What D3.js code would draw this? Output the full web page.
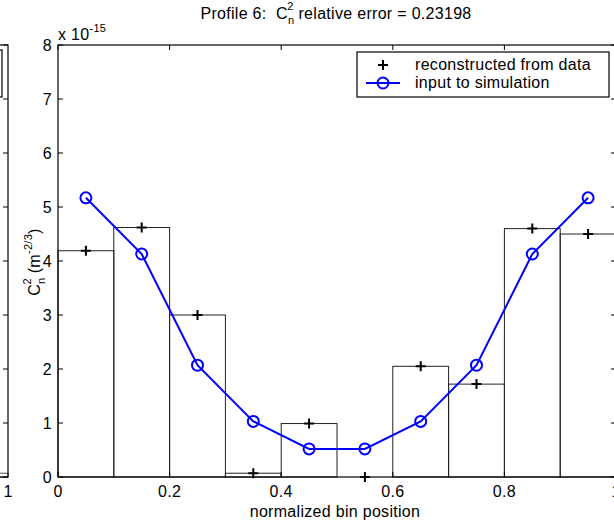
<!DOCTYPE html>
<html>
<head>
<meta charset="utf-8">
<script src="https://cdn.jsdelivr.net/npm/d3@7"></script>
<style>
  body { margin: 0; background: #fff; }
  svg { display: block; font-family: "Liberation Sans", Arial, sans-serif; }
  text { letter-spacing: 0.3px; white-space: pre; }
</style>
</head>
<body>
<svg id="chart" width="614" height="522"></svg>
<script>
// bin centres (normalized position) and bin width
var binCenters = [0.05, 0.15, 0.25, 0.35, 0.45, 0.55, 0.65, 0.75, 0.85, 0.95];
var binWidth = 0.1;
// values in units of 1e-15 m^-2/3
var reconstructed = [4.19, 4.62, 3.00, 0.07, 0.99, 0.00, 2.05, 1.72, 4.60, 4.50];
var inputSim = [5.17, 4.13, 2.07, 1.03, 0.52, 0.52, 1.03, 2.07, 4.13, 5.17];
var xTicks = [0, 0.2, 0.4, 0.6, 0.8, 1];
var yTicks = [0, 1, 2, 3, 4, 5, 6, 7, 8];
var legendLabels = ["reconstructed from data", "input to simulation"];
// neighbouring subplot, only its right edge shows
var leftPanelLastBar = [0.07];

var svg = d3.select("#chart");
var x = d3.scaleLinear().domain([0, 1]).range([58, 616]);
var y = d3.scaleLinear().domain([0, 8]).range([477, 45]);
var tickLen = 5;
var fs = 16;

// ---- left neighbour panel (clipped) ----
var xl = d3.scaleLinear().domain([0, 1]).range([-550, 8]);
var lp = svg.append("g");
lp.append("rect")
    .attr("x", xl(0.9)).attr("y", y(leftPanelLastBar[0]))
    .attr("width", xl(1) - xl(0.9)).attr("height", y(0) - y(leftPanelLastBar[0]))
    .attr("fill", "none").attr("stroke", "#555").attr("stroke-width", 1);
lp.append("rect")
    .attr("x", -300).attr("y", 45).attr("width", 308).attr("height", 432)
    .attr("fill", "none").attr("stroke", "#000").attr("stroke-width", 1.2);
lp.selectAll(".lt").data(yTicks).enter().append("line")
    .attr("x1", 8).attr("x2", 8 - tickLen)
    .attr("y1", d => y(d)).attr("y2", d => y(d))
    .attr("stroke", "#000").attr("stroke-width", 1);
lp.append("rect")
    .attr("x", -200).attr("y", 50).attr("width", 202).attr("height", 47)
    .attr("fill", "none").attr("stroke", "#000").attr("stroke-width", 1.2);
lp.append("text").attr("x", xl(1)).attr("y", 497)
    .attr("text-anchor", "middle").attr("font-size", fs).text("1");

// ---- main axes ----
var g = svg.append("g");

// bars
g.selectAll(".bar").data(reconstructed).enter().append("rect")
    .attr("class", "bar")
    .attr("x", (d, i) => x(binCenters[i] - binWidth / 2))
    .attr("y", d => y(d))
    .attr("width", (d, i) => x(binCenters[i] + binWidth / 2) - x(binCenters[i] - binWidth / 2))
    .attr("height", d => y(0) - y(d))
    .attr("fill", "none")
    .attr("stroke", "#222")
    .attr("stroke-width", 1);

// frame
g.append("rect")
    .attr("x", x(0)).attr("y", y(8))
    .attr("width", x(1) - x(0)).attr("height", y(0) - y(8))
    .attr("fill", "none").attr("stroke", "#000").attr("stroke-width", 1.2);

// ticks (inside, all four sides)
xTicks.forEach(function (t) {
    g.append("line").attr("x1", x(t)).attr("x2", x(t)).attr("y1", y(0)).attr("y2", y(0) - tickLen)
        .attr("stroke", "#000");
    g.append("line").attr("x1", x(t)).attr("x2", x(t)).attr("y1", y(8)).attr("y2", y(8) + tickLen)
        .attr("stroke", "#000");
});
yTicks.forEach(function (t) {
    g.append("line").attr("x1", x(0)).attr("x2", x(0) + tickLen).attr("y1", y(t)).attr("y2", y(t))
        .attr("stroke", "#000");
    g.append("line").attr("x1", x(1)).attr("x2", x(1) - tickLen).attr("y1", y(t)).attr("y2", y(t))
        .attr("stroke", "#000");
});

// tick labels
g.selectAll(".xl").data(xTicks).enter().append("text")
    .attr("x", d => x(d)).attr("y", 497)
    .attr("text-anchor", "middle").attr("font-size", fs)
    .text(d => d3.format("")(d));
g.selectAll(".yl").data(yTicks).enter().append("text")
    .attr("x", x(0) - 6).attr("y", d => y(d) + 6)
    .attr("text-anchor", "end").attr("font-size", fs)
    .text(d => d);

// exponent label
var ex = g.append("text").attr("x", x(0)).attr("y", 40).attr("font-size", fs);
ex.append("tspan").text("x 10");
ex.append("tspan").attr("dy", -8).attr("font-size", 11).text("-15");

// input line
var line = d3.line().x((d, i) => x(binCenters[i])).y(d => y(d));
g.append("path").datum(inputSim)
    .attr("d", line).attr("fill", "none")
    .attr("stroke", "#0000ff").attr("stroke-width", 2);
g.selectAll(".circ").data(inputSim).enter().append("circle")
    .attr("cx", (d, i) => x(binCenters[i])).attr("cy", d => y(d))
    .attr("r", 5.5).attr("fill", "none")
    .attr("stroke", "#0000ff").attr("stroke-width", 2);

// reconstructed plus markers
g.selectAll(".plus").data(reconstructed).enter().append("path")
    .attr("d", "M-5,0H5M0,-5V5")
    .attr("transform", (d, i) => "translate(" + x(binCenters[i]) + "," + y(d) + ")")
    .attr("stroke", "#000").attr("stroke-width", 2);

// legend
var lg = g.append("g");
lg.append("rect").attr("x", 357).attr("y", 52).attr("width", 252).attr("height", 45)
    .attr("fill", "#fff").attr("stroke", "#000").attr("stroke-width", 1.2);
lg.append("path").attr("d", "M-5,0H5M0,-5V5")
    .attr("transform", "translate(383,65)")
    .attr("stroke", "#000").attr("stroke-width", 2);
lg.append("line").attr("x1", 366).attr("x2", 400).attr("y1", 83).attr("y2", 83)
    .attr("stroke", "#0000ff").attr("stroke-width", 2);
lg.append("circle").attr("cx", 383).attr("cy", 83).attr("r", 5.5)
    .attr("fill", "none").attr("stroke", "#0000ff").attr("stroke-width", 2);
lg.selectAll(".lt").data(legendLabels).enter().append("text")
    .attr("x", 415).attr("y", (d, i) => 70 + i * 18)
    .attr("font-size", fs).text(d => d);

// x axis label
g.append("text").attr("x", (x(0) + x(1)) / 2 - 2).attr("y", 517)
    .attr("text-anchor", "middle").attr("font-size", fs)
    .text("normalized bin position");

// y axis label
var yl = g.append("text")
    .attr("transform", "translate(40,262) rotate(-90)")
    .attr("text-anchor", "middle").attr("font-size", fs);
yl.append("tspan").text("C");
yl.append("tspan").attr("dy", 5).attr("font-size", 11).text("n");
yl.append("tspan").attr("dx", -7).attr("dy", -14).attr("font-size", 11).text("2");
yl.append("tspan").attr("dy", 9).text(" (m");
yl.append("tspan").attr("dy", -8).attr("font-size", 11).text("-2/3");
yl.append("tspan").attr("dy", 8).text(")");

// title
var tt = g.append("text")
    .attr("x", 336).attr("y", 19)
    .attr("text-anchor", "middle").attr("font-size", fs);
tt.append("tspan").text("Profile 6:  C");
tt.append("tspan").attr("dy", 5).attr("font-size", 11).text("n");
tt.append("tspan").attr("dx", -7).attr("dy", -14).attr("font-size", 11).text("2");
tt.append("tspan").attr("dy", 9).text(" relative error = 0.23198");
</script>
</body>
</html>
